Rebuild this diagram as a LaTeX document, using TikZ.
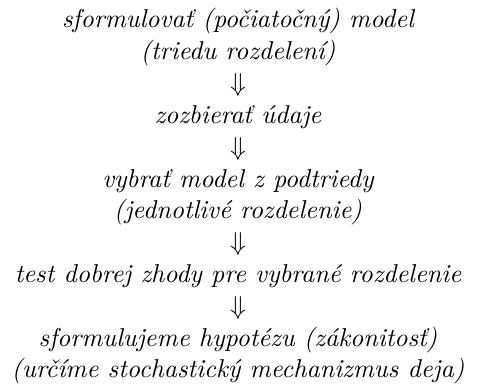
\documentclass[tikz,border=0pt]{standalone}
\begin{document}
\begin{tikzpicture}[x=0.387pt,y=-0.387pt,
  txt/.style={anchor=base, inner sep=0pt, font=\itshape},
  arr/.style={anchor=base, inner sep=0pt}]
\useasboundingbox (0,0) rectangle (477,388);
\node[txt] (s1a) at (238,28) {sformulovať (počiatočný) model};
\node[txt] (s1b) at (238,59.8) {(triedu rozdelení)};
\node[arr] (a1) at (238,91.6) {$\Downarrow$};
\node[txt] (s2) at (238,123.5) {zozbierať údaje};
\node[arr] (a2) at (238,155.3) {$\Downarrow$};
\node[txt] (s3a) at (238,187.1) {vybrať model z podtriedy};
\node[txt] (s3b) at (238,218.9) {(jednotlivé rozdelenie)};
\node[arr] (a3) at (238,250.7) {$\Downarrow$};
\node[txt] (s4) at (238,282.5) {test dobrej zhody pre vybrané rozdelenie};
\node[arr] (a4) at (238,314.4) {$\Downarrow$};
\node[txt] (s5a) at (238,346.2) {sformulujeme hypotézu (zákonitosť)};
\node[txt] (s5b) at (238,378) {(určíme stochastický mechanizmus deja)};
\end{tikzpicture}
\end{document}
